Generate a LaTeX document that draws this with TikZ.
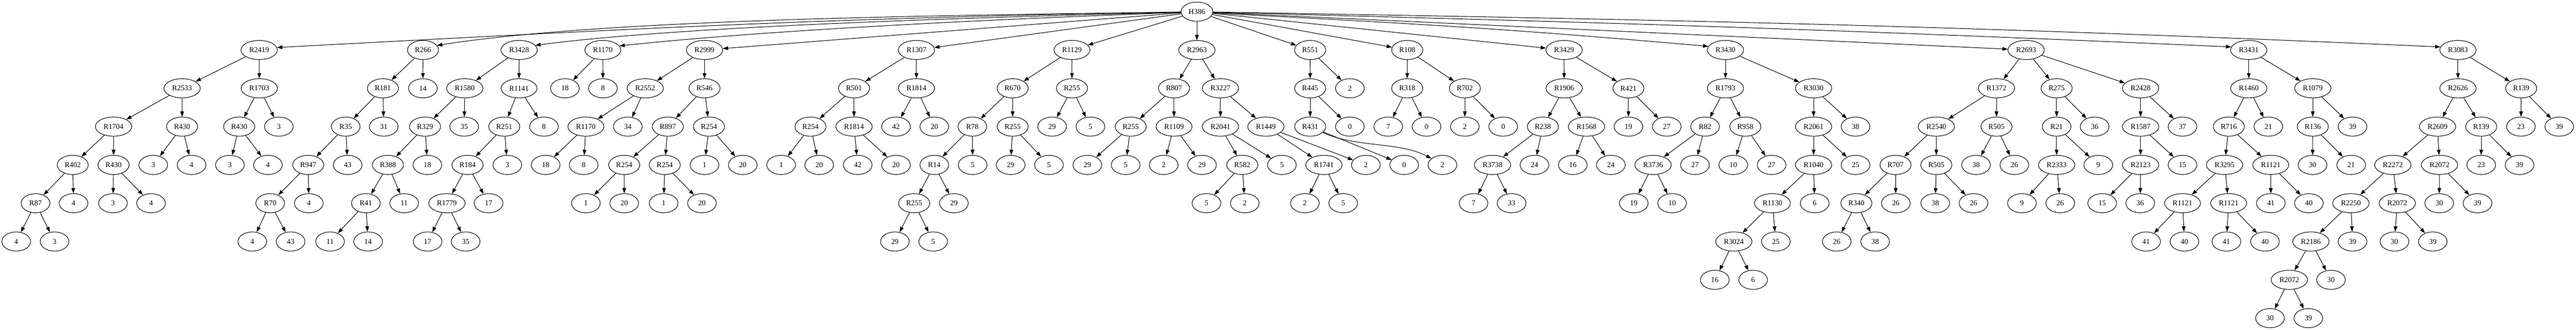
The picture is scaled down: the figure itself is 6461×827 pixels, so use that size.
\documentclass[tikz,border=0pt]{standalone}
\usepackage{fontspec}
\setmainfont{Liberation Serif}
\usetikzlibrary{shapes.geometric,arrows.meta}
\tikzset{
  vx/.style={ellipse, draw, line width=1pt, minimum width=54pt, minimum height=36pt,
    inner xsep=5.5pt, inner ysep=2pt, font=\fontsize{14pt}{16pt}\selectfont},
  ar/.style={-{Triangle[length=10pt,width=7pt]}, line width=1pt}
}
\newcommand\nn[4]{\node[vx] (#1) at (#2,{797.7-96*#3}) {#4};}
\newcommand\nd[5]{\node[vx] (#1) at (#2,{797.7-96*#3}) {#4}; \draw[ar] (#5) -- (#1);}
\begin{document}
\begin{tikzpicture}[x=0.75pt,y=0.75pt]
\useasboundingbox (0,0) rectangle (6461,827);
% root
\nn{h}{3002}{0}{H386}
% level 1
\nn{a1}{650}{1}{R2419}
\nn{a2}{1061}{1}{R266}
\nn{a3}{1302}{1}{R3428}
\nn{a4}{1512}{1}{R1170}
\nn{a5}{1767}{1}{R2999}
\nn{a6}{2298.5}{1}{R1307}
\nn{a7}{2688.6}{1}{R1129}
\nn{a8}{3002}{1}{R2963}
\nn{a9}{3286}{1}{R551}
\nn{a10}{3529.5}{1}{R108}
\nn{a11}{3923}{1}{R3429}
\nn{a12}{4327.7}{1}{R3430}
\nn{a13}{5081.8}{1}{R2693}
\nn{a14}{5640.2}{1}{R3431}
\nn{a15}{6164.9}{1}{R3083}
\draw[ar] (h.181) .. controls +(181:920) and +(3:920) .. (a1.8);
\draw[ar] (h.181) .. controls +(181:456) and +(9:456) .. (a2.18);
\draw[ar] (h.182) .. controls +(181.5:400) and +(7.5:400) .. (a3.16);
\draw[ar] (h.183) .. controls +(182:408) and +(6:408) .. (a4.14);
\draw[ar] (h) -- (a5);
\draw[ar] (h) -- (a6);
\draw[ar] (h) -- (a7);
\draw[ar] (h) -- (a8);
\draw[ar] (h) -- (a9);
\draw[ar] (h) -- (a10);
\draw[ar] (h) -- (a11);
\draw[ar] (h.-5) .. controls +(-3:520) and +(175:520) .. (a12.168);
\draw[ar] (h) -- (a13);
\draw[ar] (h.-2) .. controls +(-1.5:1033) and +(177.5:1033) .. (a14.170);
\draw[ar] (h.-1) .. controls +(-1:1238) and +(177.5:1238) .. (a15.170);
% level 2
\nd{b1}{456.7}{2}{R2533}{a1}
\nd{b2}{650.3}{2}{R1703}{a1}
\nd{b3}{960.4}{2}{R181}{a2}
\nd{b4}{1060.7}{2}{14}{a2}
\nd{b5}{1165.7}{2}{R1580}{a3}
\nd{b6}{1301.8}{2}{R1141}{a3}
\nd{b7}{1416.9}{2}{18}{a4}
\nd{b8}{1512.3}{2}{8}{a4}
\nd{b9}{1618.2}{2}{R2552}{a5}
\nd{b10}{1767}{2}{R546}{a5}
\nd{b11}{2142}{2}{R501}{a6}
\nd{b12}{2298.5}{2}{R1814}{a6}
\nd{b13}{2539.8}{2}{R670}{a7}
\nd{b14}{2688.6}{2}{R255}{a7}
\nd{b15}{2944.6}{2}{R807}{a8}
\nd{b16}{3061.1}{2}{R3227}{a8}
\nd{b17}{3286.1}{2}{R445}{a9}
\nd{b18}{3385.7}{2}{2}{a9}
\nd{b19}{3529.5}{2}{R318}{a10}
\nd{b20}{3674}{2}{R702}{a10}
\nd{b21}{3923.1}{2}{R1906}{a11}
\nd{b22}{4084.4}{2}{R421}{a11}
\nd{b23}{4327.7}{2}{R1793}{a12}
\nd{b24}{4548.7}{2}{R3030}{a12}
\nd{b25}{5007.4}{2}{R1372}{a13}
\nd{b26}{5158.3}{2}{R275}{a13}
\nd{b27}{5368.9}{2}{R2428}{a13}
\nd{b28}{5640.2}{2}{R1460}{a14}
\nd{b29}{5800.8}{2}{R1079}{a14}
\nd{b30}{6164.9}{2}{R2626}{a15}
\nd{b31}{6323.5}{2}{R139}{a15}
% level 3
\nd{c1}{284.8}{3}{R1704}{b1}
\nd{c2}{456.7}{3}{R430}{b1}
\nd{c3}{599.8}{3}{R430}{b2}
\nd{c4}{699.4}{3}{3}{b2}
\nd{c5}{867}{3}{R35}{b3}
\nd{c6}{962.5}{3}{31}{b3}
\nd{c7}{1066}{3}{R329}{b5}
\nd{c8}{1164.3}{3}{35}{b5}
\nd{c9}{1264.7}{3}{R251}{b6}
\nd{c10}{1364.3}{3}{8}{b6}
\nd{c11}{1469.5}{3}{R1170}{b9}
\nd{c12}{1574.7}{3}{34}{b9}
\nd{c13}{1675}{3}{R897}{b10}
\nd{c14}{1778.2}{3}{R254}{b10}
\nd{c15}{2032.8}{3}{R254}{b11}
\nd{c16}{2142}{3}{R1814}{b11}
\nd{c17}{2247.3}{3}{42}{b12}
\nd{c18}{2343.4}{3}{20}{b12}
\nd{c19}{2438.8}{3}{R78}{b13}
\nd{c20}{2539.8}{3}{R255}{b13}
\nd{c21}{2638.8}{3}{29}{b14}
\nd{c22}{2734.9}{3}{5}{b14}
\nd{c23}{2835.9}{3}{R255}{b15}
\nd{c24}{2944.6}{3}{R1109}{b15}
\nd{c25}{3061.1}{3}{R2041}{b16}
\nd{c26}{3175}{3}{R1449}{b16}
\nd{c27}{3286.1}{3}{R431}{b17}
\nd{c28}{3385.7}{3}{0}{b17}
\nd{c29}{3481.8}{3}{7}{b19}
\nd{c30}{3577.9}{3}{0}{b19}
\nd{c31}{3674}{3}{2}{b20}
\nd{c32}{3770.1}{3}{0}{b20}
\nd{c33}{3869.7}{3}{R238}{b21}
\nd{c34}{3979.2}{3}{R1568}{b21}
\nd{c35}{4084.4}{3}{19}{b22}
\nd{c36}{4180.5}{3}{27}{b22}
\nd{c37}{4276.5}{3}{R82}{b23}
\nd{c38}{4377.5}{3}{R958}{b23}
\nd{c39}{4548.7}{3}{R2061}{b24}
\nd{c40}{4653.9}{3}{38}{b24}
\nd{c41}{4856.6}{3}{R2540}{b25}
\nd{c42}{5007.4}{3}{R505}{b25}
\nd{c43}{5158.3}{3}{R21}{b26}
\nd{c44}{5253.7}{3}{36}{b26}
\nd{c45}{5368.9}{3}{R1587}{b27}
\nd{c46}{5474}{3}{37}{b27}
\nd{c47}{5590.2}{3}{R716}{b28}
\nd{c48}{5689.3}{3}{21}{b28}
\nd{c49}{5800.8}{3}{R136}{b29}
\nd{c50}{5900.5}{3}{39}{b29}
\nd{c51}{6113.7}{3}{R2609}{b30}
\nd{c52}{6223.2}{3}{R139}{b30}
\nd{c53}{6322.8}{3}{23}{b31}
\nd{c54}{6418.9}{3}{39}{b31}
% level 4
\nd{d1}{182.4}{4}{R402}{c1}
\nd{d2}{284.8}{4}{R430}{c1}
\nd{d3}{384.4}{4}{3}{c2}
\nd{d4}{480.5}{4}{4}{c2}
\nd{d5}{576.6}{4}{3}{c3}
\nd{d6}{672}{4}{4}{c3}
\nd{d7}{773}{4}{R947}{c5}
\nd{d8}{872}{4}{43}{c5}
\nd{d9}{973}{4}{R388}{c7}
\nd{d10}{1072}{4}{18}{c7}
\nd{d11}{1172.8}{4}{R184}{c9}
\nd{d12}{1272.4}{4}{3}{c9}
\nd{d13}{1368.5}{4}{18}{c11}
\nd{d14}{1463.9}{4}{8}{c11}
\nd{d15}{1565.6}{4}{R254}{c13}
\nd{d16}{1667.3}{4}{R254}{c13}
\nd{d17}{1767}{4}{1}{c14}
\nd{d18}{1863}{4}{20}{c14}
\nd{d19}{1959.2}{4}{1}{c15}
\nd{d20}{2054.6}{4}{20}{c15}
\nd{d21}{2151.2}{4}{42}{c16}
\nd{d22}{2247.3}{4}{20}{c16}
\nd{d23}{2343.4}{4}{R14}{c19}
\nd{d24}{2439.5}{4}{5}{c19}
\nd{d25}{2534.9}{4}{29}{c20}
\nd{d26}{2631}{4}{5}{c20}
\nd{d27}{2727.2}{4}{29}{c23}
\nd{d28}{2823.3}{4}{5}{c23}
\nd{d29}{2918.7}{4}{2}{c24}
\nd{d30}{3014.8}{4}{29}{c24}
\nd{d31}{3115.8}{4}{R582}{c25}
\nd{d32}{3215.2}{4}{5}{c25}
\nd{d33}{3320.5}{4}{R1741}{c26}
\nd{d34}{3425.7}{4}{2}{c26}
\nd{d35}{3521.8}{4}{0}{c27}
\nn{d36}{3617.9}{4}{2}
\draw[ar] (c27.-25) .. controls +(-25:90) and +(152:90) .. (d36.150);
\nd{d37}{3743.5}{4}{R3738}{c33}
\nd{d38}{3848.7}{4}{24}{c33}
\nd{d39}{3944.8}{4}{16}{c34}
\nd{d40}{4040.2}{4}{24}{c34}
\nd{d41}{4146.1}{4}{R3736}{c37}
\nd{d42}{4251.2}{4}{27}{c37}
\nd{d43}{4347.3}{4}{10}{c38}
\nd{d44}{4443.4}{4}{27}{c38}
\nd{d45}{4548.7}{4}{R1040}{c39}
\nd{d46}{4653.9}{4}{25}{c39}
\nd{d47}{4754.2}{4}{R707}{c41}
\nd{d48}{4856.6}{4}{R505}{c41}
\nd{d49}{4956.2}{4}{38}{c42}
\nd{d50}{5052.3}{4}{26}{c42}
\nd{d51}{5158.3}{4}{R2333}{c43}
\nd{d52}{5262.8}{4}{9}{c43}
\nd{d53}{5368.9}{4}{R2123}{c45}
\nd{d54}{5474}{4}{15}{c45}
\nd{d55}{5579.5}{4}{R3295}{c47}
\nd{d56}{5695.5}{4}{R1121}{c47}
\nd{d57}{5800.1}{4}{30}{c49}
\nd{d58}{5897}{4}{21}{c49}
\nd{d59}{6001.5}{4}{R2272}{c51}
\nd{d60}{6118.6}{4}{R2072}{c51}
\nd{d61}{6223.2}{4}{23}{c52}
\nd{d62}{6319.3}{4}{39}{c52}
% level 5
\nd{e1}{89.1}{5}{R87}{d1}
\nd{e2}{184.5}{5}{4}{d1}
\nd{e3}{283.4}{5}{3}{d2}
\nd{e4}{378.8}{5}{4}{d2}
\nd{e5}{677.7}{5}{R70}{d7}
\nd{e6}{774.5}{5}{4}{d7}
\nd{e7}{917.6}{5}{R41}{d9}
\nd{e8}{1013.7}{5}{11}{d9}
\nd{e9}{1120.9}{5}{R1779}{d11}
\nd{e10}{1225.4}{5}{17}{d11}
\nd{e11}{1469.5}{5}{1}{d15}
\nd{e12}{1565.6}{5}{20}{d15}
\nd{e13}{1664.5}{5}{1}{d16}
\nd{e14}{1760.6}{5}{20}{d16}
\nd{e15}{2292.9}{5}{R255}{d23}
\nd{e16}{2392.5}{5}{29}{d23}
\nd{e17}{3026}{5}{5}{d31}
\nd{e18}{3122.1}{5}{2}{d31}
\nd{e19}{3272.8}{5}{2}{d33}
\nd{e20}{3368.9}{5}{5}{d33}
\nd{e21}{3695.8}{5}{7}{d37}
\nd{e22}{3791.2}{5}{33}{d37}
\nd{e23}{4097.7}{5}{19}{d41}
\nd{e24}{4193.8}{5}{10}{d41}
\nd{e25}{4445.5}{5}{R1130}{d45}
\nd{e26}{4551.5}{5}{6}{d45}
\nd{e27}{4656}{5}{R340}{d47}
\nd{e28}{4754.9}{5}{26}{d47}
\nd{e29}{4853.8}{5}{38}{d48}
\nd{e30}{4949.9}{5}{26}{d48}
\nd{e31}{5071.3}{5}{9}{d51}
\nd{e32}{5167.4}{5}{26}{d51}
\nd{e33}{5272.6}{5}{15}{d53}
\nd{e34}{5368}{5}{36}{d53}
\nd{e35}{5474}{5}{R1121}{d55}
\nd{e36}{5589.7}{5}{R1121}{d55}
\nd{e37}{5695.6}{5}{41}{d56}
\nd{e38}{5791}{5}{40}{d56}
\nd{e39}{5896.3}{5}{R2250}{d59}
\nd{e40}{6012.7}{5}{R2072}{d59}
\nd{e41}{6117.9}{5}{30}{d60}
\nd{e42}{6214}{5}{39}{d60}
% level 6
\nd{f1}{40.7}{6}{4}{e1}
\nd{f2}{136.8}{6}{3}{e1}
\nd{f3}{632.8}{6}{4}{e5}
\nd{f4}{728.9}{6}{43}{e5}
\nd{f5}{827.8}{6}{11}{e7}
\nd{f6}{923.2}{6}{14}{e7}
\nd{f7}{1072.4}{6}{17}{e9}
\nd{f8}{1167.9}{6}{35}{e9}
\nd{f9}{2244.5}{6}{29}{e15}
\nd{f10}{2340.6}{6}{5}{e15}
\nd{f11}{4348.7}{6}{R3024}{e25}
\nd{f12}{4454}{6}{25}{e25}
\nd{f13}{4606.9}{6}{26}{e27}
\nd{f14}{4703}{6}{38}{e27}
\nd{f15}{5382.7}{6}{41}{e35}
\nd{f16}{5478.9}{6}{40}{e35}
\nd{f17}{5584.1}{6}{41}{e36}
\nd{f18}{5680.9}{6}{40}{e36}
\nd{f19}{5796}{6}{R2186}{e39}
\nd{f20}{5900.5}{6}{39}{e39}
\nd{f21}{6005.7}{6}{30}{e40}
\nd{f22}{6101.8}{6}{39}{e40}
% level 7
\nd{g1}{4301}{7}{16}{f11}
\nd{g2}{4397.1}{7}{6}{f11}
\nd{g3}{5741.9}{7}{R2072}{f19}
\nd{g4}{5846.4}{7}{30}{f19}
% level 8
\nd{k1}{5693.5}{8}{30}{g3}
\nd{k2}{5789.6}{8}{39}{g3}
\end{tikzpicture}
\end{document}
